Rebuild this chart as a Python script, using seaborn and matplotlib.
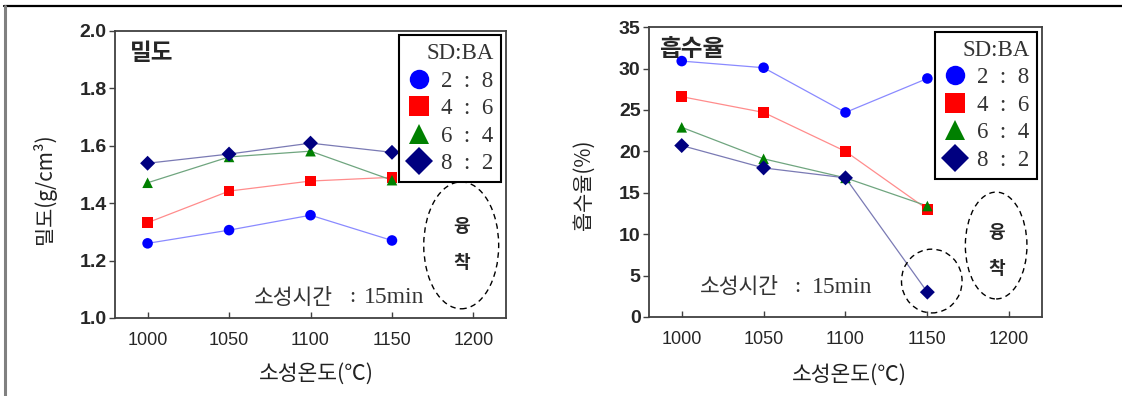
import numpy as np
import pandas as pd
import seaborn as sns
import matplotlib.pyplot as plt
from matplotlib.lines import Line2D
from matplotlib.patches import Ellipse

temps = [1000, 1050, 1100, 1150]
ratios = ["2 : 8", "4 : 6", "6 : 4", "8 : 2"]

# 밀도 (g/cm3)
density_28 = [1.260, 1.306, 1.358, 1.270]
density_46 = [1.332, 1.442, 1.477, 1.490]
density_64 = [1.471, 1.561, 1.581, 1.480]
density_82 = [1.539, 1.571, 1.609, 1.577]

# 흡수율 (%)
absorb_28 = [30.9, 30.1, 24.7, 28.8]
absorb_46 = [26.6, 24.7, 20.0, 13.0]
absorb_64 = [22.9, 19.1, 16.8, 13.4]
absorb_82 = [20.7, 18.0, 16.8, 3.0]

density_ticks = [1.0, 1.2, 1.4, 1.6, 1.8, 2.0]
absorb_ticks = [0, 5, 10, 15, 20, 25, 30, 35]
temp_ticks = [1000, 1050, 1100, 1150, 1200]

marker_colors = {"2 : 8": "#0000ff", "4 : 6": "#ff0000", "6 : 4": "#008000", "8 : 2": "#000080"}
line_colors = {"2 : 8": "#8a8aff", "4 : 6": "#ff8c8c", "6 : 4": "#6fa57f", "8 : 2": "#7a7ab4"}
markers = {"2 : 8": "o", "4 : 6": "s", "6 : 4": "^", "8 : 2": "D"}

KR = ["Noto Sans CJK KR", "DejaVu Sans"]
SERIF = ["Liberation Serif", "DejaVu Serif"]


def long_df(series):
    rows = []
    for r, vals in zip(ratios, series):
        for t, v in zip(temps, vals):
            rows.append({"temp": t, "ratio": r, "value": v})
    return pd.DataFrame(rows)


sns.set_style("ticks")
plt.rcParams["font.family"] = KR

fig = plt.figure(figsize=(11.22, 3.96), dpi=100)
ax1 = fig.add_axes([0.1025, 0.197, 0.3485, 0.725])
ax2 = fig.add_axes([0.5784, 0.1995, 0.3503, 0.732])


def draw(ax, df, ylim, yticks, yfmt):
    sns.lineplot(data=df, x="temp", y="value", hue="ratio", palette=line_colors,
                 linewidth=0.9, legend=False, ax=ax, sort=False, zorder=2)
    sns.scatterplot(data=df, x="temp", y="value", hue="ratio", style="ratio",
                    markers=markers, palette=marker_colors, s=58, linewidth=0,
                    legend=False, ax=ax, zorder=3)
    ax.set_xlim(980, 1220)
    ax.set_ylim(*ylim)
    ax.set_xticks(temp_ticks)
    ax.set_yticks(yticks)
    ax.set_yticklabels([yfmt.format(v) for v in yticks],
                       fontdict={"family": "Liberation Sans", "weight": "bold", "size": 14})
    ax.set_xticklabels([str(t) for t in temp_ticks],
                       fontdict={"family": "Liberation Sans", "size": 13})
    ax.tick_params(axis="x", direction="in", length=4, width=1, color="#404040", pad=10)
    ax.tick_params(axis="y", direction="out", length=4, width=1, color="#404040", pad=2)
    for sp in ax.spines.values():
        sp.set_visible(True)
        sp.set_color("#404040")
        sp.set_linewidth(1.3)

    handles = [Line2D([], [], linestyle="none", marker=markers[r], color=marker_colors[r],
                      markersize=14, markeredgewidth=0) for r in ratios]
    labels = [r.replace(" : ", "  :  ") for r in ratios]
    leg = ax.legend(handles, labels, title="SD:BA", loc="upper right",
                    prop={"family": SERIF, "size": 16.5},
                    title_fontproperties={"family": SERIF, "size": 16.5},
                    labelcolor="#333333",
                    frameon=True, fancybox=False, edgecolor="black", framealpha=1,
                    borderaxespad=0.2, handletextpad=0.4, labelspacing=0.28,
                    handlelength=1.1, borderpad=0.35, alignment="right")
    leg.get_title().set_color("#333333")
    leg.get_frame().set_linewidth(1.5)
    leg.set_zorder(5)


draw(ax1, long_df([density_28, density_46, density_64, density_82]), (1.0, 2.0), density_ticks, "{:.1f}")
draw(ax2, long_df([absorb_28, absorb_46, absorb_64, absorb_82]), (0, 35), absorb_ticks, "{:d}")

# axis labels
ax1.set_xlabel("소성온도(℃)", fontsize=15.5, family=KR, color="#222222")
ax1.set_ylabel("밀도(g/cm³)", fontsize=15, family=KR, color="#222222")
ax1.xaxis.set_label_coords(0.514, -0.155)
ax1.yaxis.set_label_coords(-0.15, 0.45)
ax2.set_xlabel("소성온도(℃)", fontsize=15.5, family=KR, color="#222222")
ax2.set_ylabel("흡수율(%)", fontsize=15, family=KR, color="#222222")
ax2.xaxis.set_label_coords(0.511, -0.16)
ax2.yaxis.set_label_coords(-0.137, 0.455)

# panel titles
ax1.text(0.038, 0.923, "밀도", transform=ax1.transAxes, ha="left", va="center",
         fontsize=17, fontweight="bold", family=KR)
ax2.text(0.025, 0.924, "흡수율", transform=ax2.transAxes, ha="left", va="center",
         fontsize=17, fontweight="bold", family=KR)

# firing time note
note = dict(va="center", color="#333333")
ax1.text(1065, 1.07, "소성시간", ha="left", fontsize=15.5, family=KR, **note)
ax1.text(1125.5, 1.07, ":", ha="center", fontsize=16, family=SERIF, **note)
ax1.text(1133, 1.07, "15min", ha="left", fontsize=17, family=SERIF, **note)
ax2.text(1011, 3.6, "소성시간", ha="left", fontsize=15.5, family=KR, **note)
ax2.text(1070.5, 3.6, ":", ha="center", fontsize=16, family=SERIF, **note)
ax2.text(1079.6, 3.6, "15min", ha="left", fontsize=17, family=SERIF, **note)

# melted region markers
ax1.add_patch(Ellipse((1192.5, 1.253), 46, 0.442, fill=False, linestyle=(0, (4, 3)),
                      linewidth=1, edgecolor="black", zorder=4))
ax1.text(1192.5, 1.317, "융", ha="center", va="center", fontsize=13, fontweight="bold", family=KR)
ax1.text(1192.5, 1.195, "착", ha="center", va="center", fontsize=13, fontweight="bold", family=KR)

ax2.add_patch(Ellipse((1192, 8.63), 37.6, 12.9, fill=False, linestyle=(0, (4, 3)),
                      linewidth=1, edgecolor="black", zorder=4))
ax2.text(1192, 10.26, "융", ha="center", va="center", fontsize=13, fontweight="bold", family=KR)
ax2.text(1192, 5.9, "착", ha="center", va="center", fontsize=13, fontweight="bold", family=KR)
ax2.add_patch(Ellipse((1152.7, 4.34), 37, 7.7, fill=False, linestyle=(0, (4, 3)),
                      linewidth=1, edgecolor="black", zorder=4))

# outer frame lines
fig.add_artist(Line2D([0.0036, 1.0], [0.985, 0.985], transform=fig.transFigure,
                      color="black", linewidth=1.6))
fig.add_artist(Line2D([0.0045, 0.0045], [0.0, 0.985], transform=fig.transFigure,
                      color="#808080", linewidth=2.2))

fig.savefig("out.png", dpi=100)
